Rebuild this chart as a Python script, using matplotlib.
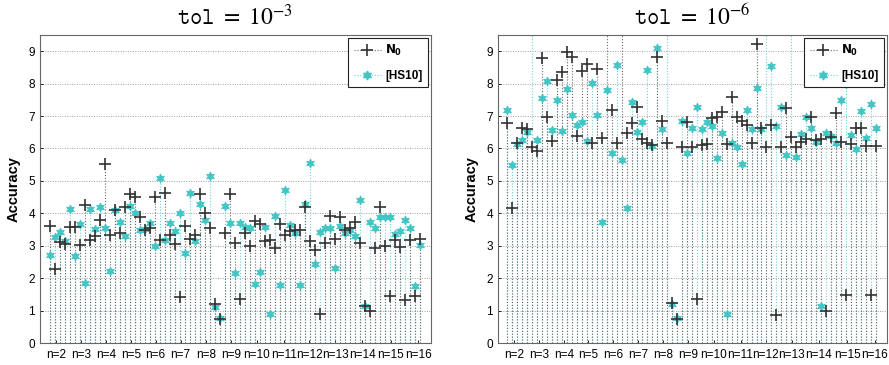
import numpy as np
import matplotlib
matplotlib.use("Agg")
import matplotlib.pyplot as plt
from matplotlib.legend_handler import HandlerLine2D
from matplotlib.font_manager import FontProperties

plt.rcParams['font.family'] = ['Liberation Sans', 'DejaVu Sans']
plt.rcParams['mathtext.fontset'] = 'stix'

# ---------------- data ----------------
n_labels = ["n=%d" % n for n in range(2, 17)]

# tol = 1e-3
n0_tol3 = [3.62, 2.28, 3.13, 3.04, 3.57, 3.57, 3.03, 4.27, 3.17, 3.30,
           3.80, 5.51, 3.32, 4.10, 3.39, 4.19, 4.60, 4.50, 3.89, 3.50,
           3.55, 4.50, 3.17, 4.63, 3.33, 3.04, 1.43, 3.60, 3.22, 3.33,
           4.59, 4.01, 3.56, 1.20, 0.73, 3.40, 4.61, 3.07, 1.35, 3.38,
           2.99, 3.77, 3.67, 3.15, 3.17, 2.92, 3.67, 3.33, 3.46, 3.50,
           3.50, 4.18, 3.15, 2.86, 0.89, 3.07, 3.91, 3.22, 3.89, 3.50,
           3.55, 3.74, 3.07, 1.15, 0.99, 2.94, 4.18, 2.99, 1.46, 3.17,
           2.97, 1.34, 3.19, 1.46, 3.22]
hs_tol3 = [2.70, 3.26, 3.42, 3.16, 4.13, 2.67, 3.67, 1.85, 4.13, 3.53,
           4.18, 3.54, 2.23, 4.10, 3.72, 3.31, 4.23, 4.02, 3.48, 3.51,
           3.70, 3.00, 5.10, 3.17, 3.70, 3.45, 4.00, 2.78, 4.63, 3.15,
           4.30, 3.79, 5.14, 1.12, 0.76, 4.22, 3.69, 2.17, 3.69, 3.58,
           3.56, 1.82, 2.20, 3.58, 0.89, 3.91, 1.79, 4.73, 3.63, 3.38,
           1.79, 4.28, 5.55, 2.43, 3.43, 3.56, 3.56, 2.30, 3.60, 3.38,
           3.50, 3.30, 4.42, 1.15, 3.74, 3.56, 3.89, 3.89, 3.89, 3.35,
           3.45, 3.79, 3.56, 1.76, 3.02]

# tol = 1e-6 (values above the axis top are drawn as 16)
n0_tol6 = [6.78, 4.16, 6.16, 6.64, 6.59, 6.06, 5.93, 8.78, 6.96, 6.23,
           8.11, 8.37, 8.98, 8.83, 6.37, 8.40, 8.60, 6.16, 8.44, 6.31,
           16.0, 7.18, 6.16, 16.0, 6.48, 6.78, 7.27, 6.28, 6.18, 6.11,
           8.83, 6.86, 6.16, 1.22, 0.75, 6.06, 6.83, 6.06, 1.37, 6.11,
           6.14, 6.93, 6.96, 7.14, 6.14, 7.58, 6.96, 6.86, 6.72, 6.16,
           9.22, 6.62, 6.06, 6.72, 0.87, 6.06, 7.24, 6.34, 6.06, 6.20,
           6.28, 6.96, 6.26, 6.30, 1.00, 6.35, 7.08, 6.20, 1.49, 6.14,
           6.62, 6.62, 6.08, 1.49, 6.08]
hs_tol6 = [7.19, 5.49, 6.13, 6.26, 6.52, 16.0, 6.26, 7.55, 8.08, 6.57,
           7.49, 6.55, 7.82, 7.03, 6.72, 6.83, 6.24, 8.03, 7.03, 3.72,
           7.80, 5.85, 8.57, 5.65, 4.16, 7.42, 6.52, 6.83, 8.42, 6.07,
           9.09, 6.59, 16.0, 1.20, 0.77, 6.86, 5.85, 6.64, 7.27, 6.59,
           6.83, 6.69, 5.70, 6.47, 0.90, 6.16, 6.06, 5.52, 7.19, 6.59,
           7.85, 6.59, 16.0, 8.54, 6.70, 7.27, 5.80, 16.0, 5.73, 6.44,
           6.96, 6.62, 6.21, 1.15, 6.49, 6.39, 6.16, 7.49, 8.00, 6.42,
           5.98, 7.17, 6.31, 7.37, 6.62]

tick_pos = [1.25, 6.35, 11.35, 16.25, 21.2, 26.2, 31.2, 36.2, 41.4, 46.8,
            51.9, 57.1, 62.5, 68.2, 73.7]

panels = [("-3", n0_tol3, hs_tol3), ("-6", n0_tol6, hs_tol6)]

# ---------------- style ----------------
dark = '#333333'
cyan = '#42c5c5'
cyan_line = '#6fd6d6'
dark_line = '#6a6a6a'
dot = (0, (1, 1.6))


class RightMarker(HandlerLine2D):
    """Legend entry with the marker near the right end of the line."""
    def get_xdata(self, legend, xdescent, ydescent, width, height, fontsize):
        xdata = np.array([-xdescent, -xdescent + width])
        xdata_marker = np.array([-xdescent + width * 0.85])
        return xdata, xdata_marker


fig = plt.figure(figsize=(8.89, 3.65), dpi=100)
axes_rects = [[40/889, 22/365, 391/889, 308/365],
              [498/889, 22/365, 389/889, 308/365]]

star6 = (6, 1, 0)
leg_font = FontProperties(family='Liberation Sans', weight='bold', size=8.5,
                          math_fontfamily='dejavusans')

for rect, (exp, n0, hs) in zip(axes_rects, panels):
    ax = fig.add_axes(rect)
    x = np.arange(len(n0))
    n0 = np.asarray(n0)
    hs = np.asarray(hs)
    ax.vlines(x, 0, hs, colors=cyan_line, linestyles=dot, linewidth=0.8, zorder=2)
    ax.vlines(x, 0, n0, colors=dark_line, linestyles=dot, linewidth=0.8, zorder=2)
    ax.plot(x, hs, linestyle='none', marker=star6, markersize=6.5,
            color=cyan, markeredgecolor=cyan, markeredgewidth=0.6, zorder=3)
    ax.plot(x, n0, linestyle='none', marker='+', markersize=8,
            markeredgewidth=1.2, color=dark, zorder=4)
    # legend proxies with dotted lines
    h1, = ax.plot([], [], color=dark_line, linestyle=dot, linewidth=0.8,
                  marker='+', markersize=8, markeredgewidth=1.2, markeredgecolor=dark)
    h2, = ax.plot([], [], color=cyan_line, linestyle=dot, linewidth=0.8,
                  marker=star6, markersize=6.5, markerfacecolor=cyan, markeredgecolor=cyan)
    leg = ax.legend([h1, h2], [r'$\mathbf{N_0}$', '[HS10]'], loc='upper right',
                    fancybox=False, framealpha=1, edgecolor='#222222',
                    prop=leg_font, handlelength=2.3,
                    handler_map={h1: RightMarker(), h2: RightMarker()},
                    borderaxespad=0.25, borderpad=0.45, labelspacing=1.0,
                    handletextpad=0.4)
    leg.get_frame().set_linewidth(0.8)

    ax.set_xlim(-1.9, 76.2)
    ax.set_ylim(0, 9.5)
    ax.set_yticks(range(0, 10))
    ax.set_xticks(tick_pos)
    ax.set_xticklabels(n_labels, fontsize=8.5)
    ax.tick_params(axis='y', labelsize=8.5, length=2.5, direction='in', width=0.6)
    ax.tick_params(axis='x', length=2.5, direction='in', width=0.6, pad=4)
    ax.grid(axis='y', linestyle=(0, (1, 1.5)), color='#a0a0a0', linewidth=0.7)
    ax.set_axisbelow(True)
    for s in ax.spines.values():
        s.set_color('#666666')
        s.set_linewidth(0.8)
    ax.set_ylabel('Accuracy', fontsize=10.5, fontweight='bold', labelpad=6)
    ax.set_title(r'$\mathtt{tol}\ =\ 10^{%s}$' % exp, fontsize=17, pad=7)

fig.savefig('out.png', dpi=100)
